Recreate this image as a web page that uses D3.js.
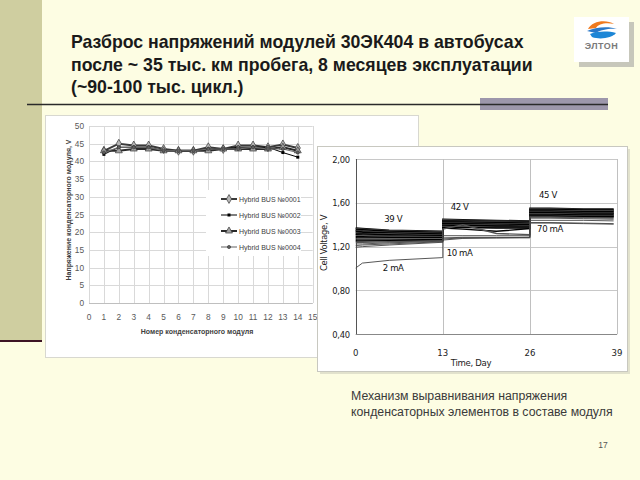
<!DOCTYPE html>
<html><head><meta charset="utf-8">
<script src="https://cdn.jsdelivr.net/npm/d3@7"></script>
<style>
html,body{margin:0;padding:0;background:#fdfde3;}
svg{display:block;}
</style></head>
<body>
<svg id="slide" width="640" height="480"></svg>
<script>
// ---------- DATA ----------
const titleLines = ["Разброс напряжений модулей 30ЭК404 в автобусах",
  "после ~ 35 тыс. км пробега, 8 месяцев эксплуатации",
  "(~90-100 тыс. цикл.)"];
const captionLines = ["Механизм выравнивания напряжения",
  "конденсаторных элементов в составе модуля"];
const pageNumber = "17";

// left chart
const moduleNumbers = [1,2,3,4,5,6,7,8,9,10,11,12,13,14];
const busNames = ["Hybrid BUS №0001","Hybrid BUS №0002","Hybrid BUS №0003","Hybrid BUS №0004"];
const bus1 = [43, 45, 44.5, 44.5, 43.5, 43, 43, 44, 43.5, 44.5, 44.5, 44, 44.8, 43.8];
const bus2 = [42, 44, 44, 44, 43, 43, 43, 43.5, 43.5, 44, 44, 44, 42.5, 41.2];
const bus3 = [43, 43, 43.5, 43.5, 43, 43, 43, 43, 43.5, 43.5, 43.5, 43.5, 44, 43];
const bus4 = [42.5, 44, 44, 44, 43, 43, 43, 43.5, 43.5, 43.5, 44, 43.5, 43.5, 42.5];
const leftXTicks = d3.range(0, 16);
const leftYTicks = [0,5,10,15,20,25,30,35,40,45,50];
const leftXTitle = "Номер конденсаторного модуля";
const leftYTitle = "Напряжение конденсаторного модуля, V";

// right chart
const cellDays = [0, 1, 5, 13, 13, 16, 21, 26, 26, 29, 34, 38.5];
const cellTraces = [
  [1.37,1.365,1.35,1.34, 1.45,1.445,1.44,1.435, 1.55,1.55,1.545,1.545],
  [1.365,1.36,1.345,1.335, 1.445,1.44,1.435,1.43, 1.545,1.545,1.54,1.54],
  [1.36,1.355,1.34,1.33, 1.44,1.435,1.43,1.43, 1.54,1.54,1.535,1.535],
  [1.35,1.345,1.335,1.325, 1.435,1.43,1.43,1.425, 1.535,1.535,1.53,1.53],
  [1.345,1.34,1.33,1.32, 1.43,1.43,1.425,1.42, 1.53,1.53,1.525,1.525],
  [1.34,1.335,1.325,1.315, 1.425,1.425,1.42,1.415, 1.525,1.525,1.52,1.52],
  [1.33,1.33,1.32,1.31, 1.42,1.42,1.415,1.41, 1.52,1.52,1.515,1.515],
  [1.325,1.32,1.315,1.305, 1.415,1.415,1.41,1.405, 1.515,1.515,1.51,1.51],
  [1.315,1.315,1.31,1.30, 1.41,1.41,1.405,1.40, 1.51,1.51,1.505,1.505],
  [1.31,1.305,1.30,1.295, 1.405,1.405,1.40,1.395, 1.505,1.505,1.50,1.50],
  [1.30,1.30,1.295,1.29, 1.40,1.40,1.395,1.39, 1.50,1.50,1.495,1.495],
  [1.29,1.29,1.285,1.285, 1.395,1.395,1.39,1.385, 1.495,1.495,1.49,1.49],
  [1.28,1.28,1.28,1.28, 1.39,1.39,1.385,1.38, 1.49,1.49,1.485,1.485],
  [1.27,1.27,1.27,1.27, 1.385,1.38,1.375,1.375, 1.485,1.485,1.48,1.48],
  [1.26,1.26,1.26,1.265, 1.375,1.375,1.37,1.37, 1.48,1.48,1.475,1.475],
  [1.25,1.25,1.255,1.26, 1.37,1.36,1.34,1.365, 1.475,1.475,1.47,1.47],
  [1.24,1.24,1.245,1.255, 1.36,1.40,1.32,1.31, 1.47,1.47,1.465,1.46],
  [1.225,1.225,1.235,1.25, 1.30,1.30,1.30,1.30, 1.46,1.46,1.455,1.45],
  [1.21,1.215,1.225,1.245, 1.28,1.285,1.285,1.285, 1.44,1.44,1.44,1.435],
  [1.195,1.20,1.215,1.24, 1.27,1.28,1.28,1.28, 1.42,1.42,1.415,1.41],
  [1.005,1.05,1.075,1.10, 1.26,1.275,1.28,1.285, 1.415,1.415,1.41,1.405]
];
const rightYTicks = [0.40, 0.80, 1.20, 1.60, 2.00];
const rightXTicks = [0, 13, 26, 39];
const rightXTitle = "Time, Day";
const rightYTitle = "Cell Voltage, V";
const rightNotes = [
  {text:"39 V", day:5.6, v:1.425},
  {text:"42 V", day:15.5, v:1.53},
  {text:"45 V", day:28.7, v:1.64},
  {text:"2 mA", day:5.6, v:0.975},
  {text:"10 mA", day:15.5, v:1.115},
  {text:"70 mA", day:29, v:1.33}
];

// ---------- DRAW ----------
const svg = d3.select("#slide");
const cream = "#fdfde3";
svg.append("rect").attr("width",640).attr("height",480).attr("fill",cream);
// left stripe
svg.append("rect").attr("x",0).attr("y",0).attr("width",42).attr("height",341).attr("fill","#cfcea0");
svg.append("line").attr("x1",0).attr("x2",42).attr("y1",341).attr("y2",341).attr("stroke","#3d1424").attr("stroke-width",2);

// title
const title = svg.append("text").attr("x",71).attr("y",48)
  .attr("font-family","Liberation Sans, Arial, sans-serif").attr("font-weight","bold")
  .attr("font-size",17.7).attr("fill","#1a1a1a");
titleLines.forEach((t,i)=>title.append("tspan").attr("x",71).attr("y",48+i*22.5).text(t));

// rule and purple bar
svg.append("rect").attr("x",480).attr("y",98).attr("width",128).attr("height",12).attr("fill","#9d97ab");
svg.append("line").attr("x1",27).attr("x2",608).attr("y1",104.5).attr("y2",104.5).attr("stroke","#2a2a2a").attr("stroke-width",1.6);

// logo
const logo = svg.append("g");
logo.append("rect").attr("x",579).attr("y",22).attr("width",55).attr("height",45).attr("fill","#9a9a9a").attr("opacity",0.55);
logo.append("rect").attr("x",574).attr("y",17).attr("width",55).attr("height",45).attr("fill","#ffffff");
logo.append("path").attr("d","M588,29 C592,21 606,19 614,24 C606,22 598,24 596,28 Z").attr("fill","#f07a1e");
logo.append("path").attr("d","M587,31 C595,27 609,26 617,29 C610,28 600,30 596,33 Z").attr("fill","#2a78c8");
logo.append("path").attr("d","M590,34 C598,31 608,31 616,33 C612,38 600,40 592,37 Z").attr("fill","#1d86d6");
logo.append("text").attr("x",601.5).attr("y",49).attr("text-anchor","middle")
  .attr("font-family","Liberation Sans, Arial, sans-serif").attr("font-size",9).attr("font-weight","bold")
  .attr("fill","#7a7a7a").attr("letter-spacing",0.5).text("ЭЛТОН");

// ---------- LEFT CHART ----------
const lf = "Liberation Sans, Arial, sans-serif";
svg.append("rect").attr("x",45.5).attr("y",115.5).attr("width",373).attr("height",242)
  .attr("fill","#ffffff").attr("stroke","#d8d8d0");
const lx = d3.scaleLinear().domain([0,15]).range([89,312.7]);
const ly = d3.scaleLinear().domain([0,50]).range([303,126]);
const lg = svg.append("g");
lg.selectAll(".hg").data(leftYTicks).join("line")
  .attr("x1",lx(0)).attr("x2",lx(15)).attr("y1",d=>Math.round(ly(d))+0.5).attr("y2",d=>Math.round(ly(d))+0.5)
  .attr("stroke","#d9d9d9").attr("stroke-width",1);
lg.selectAll(".vg").data(leftXTicks).join("line")
  .attr("y1",ly(0)).attr("y2",ly(50)).attr("x1",d=>Math.round(lx(d))+0.5).attr("x2",d=>Math.round(lx(d))+0.5)
  .attr("stroke","#d9d9d9").attr("stroke-width",1);
lg.append("line").attr("x1",lx(0)).attr("x2",lx(15)).attr("y1",Math.round(ly(0))+0.5).attr("y2",Math.round(ly(0))+0.5).attr("stroke","#bfbfbf");
lg.selectAll(".yl").data(leftYTicks).join("text")
  .attr("x",84).attr("y",d=>ly(d)+3).attr("text-anchor","end")
  .attr("font-family",lf).attr("font-size",8.3).attr("fill","#595959").text(d=>d);
lg.selectAll(".xl").data(leftXTicks).join("text")
  .attr("x",d=>lx(d)).attr("y",320).attr("text-anchor","middle")
  .attr("font-family",lf).attr("font-size",8.3).attr("fill","#595959").text(d=>d);
lg.append("text").attr("x",197).attr("y",334).attr("text-anchor","middle")
  .attr("font-family",lf).attr("font-size",7).attr("font-weight","bold").attr("fill","#404040").text(leftXTitle);
lg.append("text").attr("transform","translate(71,210) rotate(-90)").attr("text-anchor","middle")
  .attr("font-family",lf).attr("font-size",7).attr("font-weight","bold").attr("fill","#404040").text(leftYTitle);

const busData = [bus1,bus2,bus3,bus4];
const busStyle = [
  {stroke:"#3a3a3a", w:2, marker:"diamond", fill:"#b8b8b8", ms:4.2},
  {stroke:"#000000", w:1, marker:"square", fill:"#000000", ms:3},
  {stroke:"#2a2a2a", w:2, marker:"triangle", fill:"#a0a0a0", ms:4.6},
  {stroke:"#707070", w:1.1, marker:"circle", fill:"#606060", ms:2.8}
];
const symType = {diamond:d3.symbolDiamond, square:d3.symbolSquare, triangle:d3.symbolTriangle, circle:d3.symbolCircle};
const lline = d3.line().x((d,i)=>lx(moduleNumbers[i])).y(d=>ly(d));
busData.forEach((s,k)=>{
  const st = busStyle[k];
  lg.append("path").attr("d",lline(s)).attr("fill","none").attr("stroke",st.stroke).attr("stroke-width",st.w);
});
busData.forEach((s,k)=>{
  const st = busStyle[k];
  const sym = d3.symbol().type(symType[st.marker]).size(st.ms*st.ms*(st.marker==="diamond"?1.3:1));
  lg.selectAll(".m"+k).data(s).join("path")
    .attr("transform",(d,i)=>`translate(${lx(moduleNumbers[i])},${ly(d)})`)
    .attr("d",sym()).attr("fill",st.fill).attr("stroke",k===1?"none":"#3a3a3a").attr("stroke-width",0.7);
});
// legend
const leg = lg.append("g");
leg.append("rect").attr("x",206).attr("y",190).attr("width",95).attr("height",66).attr("fill","#ffffff");
busNames.forEach((n,k)=>{
  const st = busStyle[k];
  const yy = 199 + k*16;
  leg.append("line").attr("x1",221).attr("x2",237).attr("y1",yy).attr("y2",yy).attr("stroke",st.stroke).attr("stroke-width",st.w);
  const sym = d3.symbol().type(symType[st.marker]).size(st.ms*st.ms*(st.marker==="diamond"?1.3:1));
  leg.append("path").attr("transform",`translate(229,${yy})`).attr("d",sym())
    .attr("fill",st.fill).attr("stroke",k===1?"none":"#3a3a3a").attr("stroke-width",0.7);
  leg.append("text").attr("x",239).attr("y",yy+2.5).attr("font-family",lf).attr("font-size",7)
    .attr("fill","#404040").text(n);
});

// ---------- RIGHT CHART ----------
const rf = "DejaVu Sans Condensed, Liberation Sans Narrow, Arial Narrow, sans-serif";
svg.append("rect").attr("x",320).attr("y",149).attr("width",310).attr("height",225).attr("fill","#c8c8b8").attr("opacity",0.5);
svg.append("rect").attr("x",317.5).attr("y",146.5).attr("width",310).attr("height",225)
  .attr("fill","#ffffff").attr("stroke","#c8c8c0");
const rx = d3.scaleLinear().domain([0,39]).range([355.7,617]);
const ry = d3.scaleLinear().domain([0.4,2.0]).range([334.3,159]);
const rg = svg.append("g");
rg.selectAll(".hg").data(rightYTicks.filter(d=>d>0.4)).join("line")
  .attr("x1",rx(0)).attr("x2",rx(39)).attr("y1",d=>Math.round(ry(d))+0.5).attr("y2",d=>Math.round(ry(d))+0.5)
  .attr("stroke","#c8c8c8");
rg.selectAll(".vg").data(rightXTicks.filter(d=>d>0)).join("line")
  .attr("y1",ry(0.4)).attr("y2",ry(2.0)).attr("x1",d=>Math.round(rx(d))+0.5).attr("x2",d=>Math.round(rx(d))+0.5)
  .attr("stroke","#c0c0c0");
rg.append("line").attr("x1",Math.round(rx(0))+0.5).attr("x2",Math.round(rx(0))+0.5).attr("y1",ry(0.4)).attr("y2",ry(2.0)).attr("stroke","#555");
rg.append("line").attr("x1",rx(0)).attr("x2",rx(39)).attr("y1",Math.round(ry(0.4))+0.5).attr("y2",Math.round(ry(0.4))+0.5).attr("stroke","#888");
const fmt = d=>d.toFixed(2).replace(".",",");
rg.selectAll(".yl").data(rightYTicks).join("text")
  .attr("x",350).attr("y",d=>ry(d)+3.5).attr("text-anchor","end")
  .attr("font-family",rf).attr("font-size",9.3).attr("fill","#222").attr("letter-spacing",-0.2).text(fmt);
rg.selectAll(".xl").data(rightXTicks).join("text")
  .attr("x",d=>rx(d)).attr("y",356).attr("text-anchor","middle")
  .attr("font-family",rf).attr("font-size",9.5).attr("fill","#222").text(d=>d);
rg.append("text").attr("x",471).attr("y",366).attr("text-anchor","middle")
  .attr("font-family",rf).attr("font-size",9.5).attr("fill","#222").attr("letter-spacing",-0.3).text(rightXTitle);
rg.append("text").attr("transform","translate(327,243) rotate(-90)").attr("text-anchor","middle")
  .attr("font-family",rf).attr("font-size",9.3).attr("fill","#222").attr("letter-spacing",-0.3).text(rightYTitle);
const rline = d3.line().x((d,i)=>rx(cellDays[i])).y(d=>ry(d));
cellTraces.forEach((t,k)=>{
  const light = (k===17||k===18||k===19||k===20);
  rg.append("path").attr("d",rline(t)).attr("fill","none")
    .attr("stroke", light ? "#444" : (k%3===1 ? "#555" : "#000"))
    .attr("stroke-width", light ? 0.9 : 1.4);
});
rg.selectAll(".note").data(rightNotes).join("text")
  .attr("x",d=>rx(d.day)).attr("y",d=>ry(d.v)).attr("text-anchor","middle")
  .attr("font-family",rf).attr("font-size",9.5).attr("fill","#111").attr("letter-spacing",-0.4).text(d=>d.text);

// caption
const cap = svg.append("text").attr("font-family","Liberation Sans, Arial, sans-serif").attr("font-size",12.3).attr("fill","#3a3a3a");
captionLines.forEach((t,i)=>cap.append("tspan").attr("x",351).attr("y",400+i*16).text(t));
svg.append("text").attr("x",603).attr("y",448).attr("text-anchor","middle")
  .attr("font-family","Liberation Sans, Arial, sans-serif").attr("font-size",8.5).attr("fill","#555").text(pageNumber);
</script>
</body></html>
